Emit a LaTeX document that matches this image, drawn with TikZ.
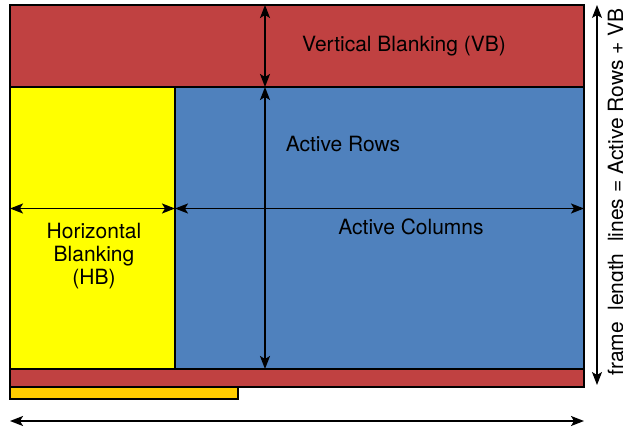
\documentclass[tikz,border=0pt]{standalone}
\usepackage{fontspec}
\setmainfont{TeX Gyre Heros}
\usetikzlibrary{
    positioning,
    arrows.meta
}
\definecolor{blankRed}{RGB}{192, 65, 65}
\definecolor{activeBlue}{RGB}{79, 129, 189}
\definecolor{hbYellow}{RGB}{255, 255, 0}
\definecolor{hbOrange}{RGB}{255, 204, 0}

\begin{document}
\begin{tikzpicture}[x=1pt, y=-1pt, >={Stealth[length=13pt, width=10pt, inset=3pt]},
        font=\fontsize{21}{23}\selectfont,
        region/.style={draw=black, line width=1.6pt},
        dim/.style={<->, line width=1.6pt}]
        \useasboundingbox (0, 0) rectangle (623, 430);
        \coordinate (TL) at (10, 5);
        \coordinate (AT) at (10, 87);   % top of active area
        \coordinate (AB) at (584, 369); % bottom of active area
        
        % Regions
        \draw[region, fill=blankRed] (TL) rectangle (584, 87);
        \draw[region, fill=activeBlue] (AT) rectangle (AB);
        \draw[region, fill=hbYellow] (AT) rectangle (175, 369);
        \draw[region, fill=blankRed] (10, 369) rectangle (584, 387);
        \draw[region, fill=hbOrange] (10, 387) rectangle (238, 399);
        
        % Arrow ends
        \coordinate (vTop) at (265, 5);
        \coordinate (vMid) at (265, 87);
        \coordinate (vBot) at (265, 369);
        \coordinate (hLeft) at (10, 208.5);
        \coordinate (hMid) at (175, 208.5);
        \coordinate (hRight) at (584, 208.5);
        \coordinate (fTop) at (597, 5);
        \coordinate (fBot) at (597, 385);
        \coordinate (lLeft) at (10, 421);
        \coordinate (lRight) at (584, 421);
        
        % Dimensions
        \draw[dim] (vTop) -- (vMid);
        \draw[dim] (vMid) -- (vBot);
        \draw[dim] (hLeft) -- (hMid);
        \draw[dim] (hMid) -- (hRight);
        \draw[<->, line width=1.2pt] (fTop) -- (fBot);
        \draw[dim] (lLeft) -- (lRight);
        
        % Labels
        \node[anchor=base] (vbText) at (404, 52) {Vertical Blanking (VB)};
        \node[anchor=base] (rowsText) at (343, 152) {Active Rows};
        \node[anchor=base] (colsText) at (411, 234) {Active Columns};
        \node[align=center, anchor=base] (hbText) at (94, 284) {Horizontal\\Blanking\\(HB)};
        \node[rotate=90, anchor=base, inner sep=0pt] (fllText) at (623, 192)
            {frame\_length\_lines = Active Rows + VB};
    \end{tikzpicture}
\end{document}
